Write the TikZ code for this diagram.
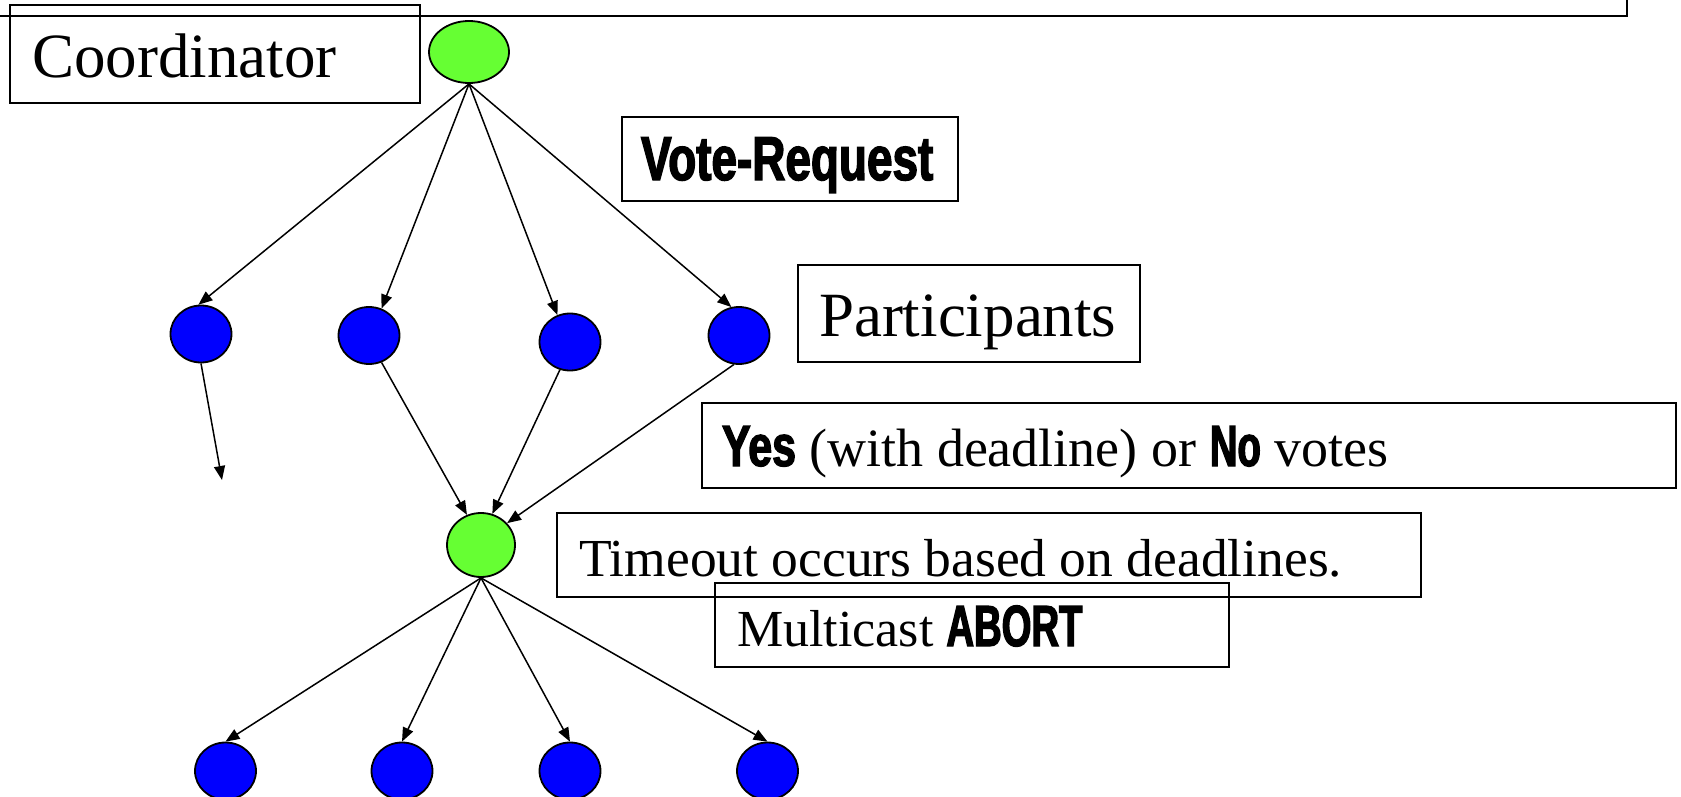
\documentclass[tikz,border=0pt]{standalone}
\usepackage{fontspec}
\setmainfont{Liberation Serif}
\newfontfamily\impactfont{Liberation Sans}[FakeStretch=0.74, BoldFeatures={FakeBold=2.2}]
\newfontfamily\impactnarrow{Liberation Sans}[FakeStretch=0.66, BoldFeatures={FakeBold=2.2}]
\usetikzlibrary{arrows.meta,shapes.geometric}
\definecolor{ngreen}{RGB}{102,255,51}
\definecolor{nblue}{RGB}{0,0,255}
\newcommand\imp[1]{{\impactfont\bfseries #1}}
\newcommand\impn[1]{{\impactnarrow\bfseries #1}}
\begin{document}
\begin{tikzpicture}[x=1pt,y=-1pt,
  boxframe/.style={draw, line width=1.8pt, inner sep=0pt, outer sep=0pt, anchor=north west},
  txt/.style={anchor=base west, inner sep=0pt, outer sep=0pt},
  big/.style={font=\fontsize{63}{70}\selectfont},
  mid/.style={font=\fontsize{52}{60}\selectfont},
  gnode/.style={draw, line width=1.8pt, fill=ngreen, ellipse, inner sep=0pt},
  bnode/.style={draw, line width=1.8pt, fill=nblue, ellipse, inner sep=0pt, minimum width=61pt, minimum height=57pt},
  arr/.style={line width=1.5pt, -{Triangle[length=14pt,width=11pt]}}]
\useasboundingbox (0,0) rectangle (1681,797);
% frame
\coordinate (fa) at (-5,16);
\coordinate (fc) at (1627,16);
\coordinate (fb) at (1627,-5);
\draw[line width=2pt] (fa) -- (fc) -- (fb);
% boxes
\node[boxframe, minimum width=410pt, minimum height=98pt] (cbox) at (10,5) {};
\node[boxframe, minimum width=336pt, minimum height=84pt] (vbox) at (622,117) {};
\node[boxframe, minimum width=342pt, minimum height=97pt] (pbox) at (798,265) {};
\node[boxframe, minimum width=974pt, minimum height=85pt] (ybox) at (702,403) {};
\node[boxframe, minimum width=864pt, minimum height=84pt] (tbox) at (557,513) {};
\node[boxframe, minimum width=514pt, minimum height=84pt] (mbox) at (715,583) {};
% texts
\node[txt, big] (ctxt) at (32,78) {Coordinator};
\node[txt, font=\fontsize{62}{66}\selectfont] (vtxt) at (641,180) {\imp{Vote-Request}};
\node[txt, big] (ptxt) at (819,336) {Participants};
\node[txt, font=\fontsize{54}{60}\selectfont] (ytxt) at (722,466) {{\fontsize{58}{60}\selectfont\imp{Yes}} (with deadline) or {\fontsize{58}{60}\selectfont\impn{No}} votes};
\node[txt, font=\fontsize{53.5}{60}\selectfont] (ttxt) at (579,576) {Timeout occurs based on deadlines.};
\node[txt, mid] (mtxt) at (737,646) {Multicast {\fontsize{58}{60}\selectfont\impn{ABORT}}};
% nodes
\node[gnode, minimum width=80pt, minimum height=62pt] (c) at (469,52) {};
\node[bnode] (p1) at (201,334) {};
\node[bnode] (p2) at (369,335.5) {};
\node[bnode] (p3) at (570,342) {};
\node[bnode] (p4) at (739,335.5) {};
\node[gnode, minimum width=68pt, minimum height=64pt] (g) at (481,545) {};
\node[bnode] (b1) at (225.5,771) {};
\node[bnode] (b2) at (402,771) {};
\node[bnode] (b3) at (570,771) {};
\node[bnode] (b4) at (767.5,771) {};
\coordinate (e1) at (222,480);
% arrows
\draw[arr] (c.south) -- (p1.95);
\draw[arr] (c.south) -- (p2.65);
\draw[arr] (c.south) -- (p3.115);
\draw[arr] (c.south) -- (p4.105);
\draw[arr] (p1.south) -- (e1);
\draw[arr] (p2.-65) -- (g.115);
\draw[arr] (p3.-110) -- (g.70);
\draw[arr] (p4.-100) -- (g.40);
\draw[arr] (g.south) -- (b1.north);
\draw[arr] (g.south) -- (b2.north);
\draw[arr] (g.south) -- (b3.north);
\draw[arr] (g.south) -- (b4.north);
\end{tikzpicture}
\end{document}
